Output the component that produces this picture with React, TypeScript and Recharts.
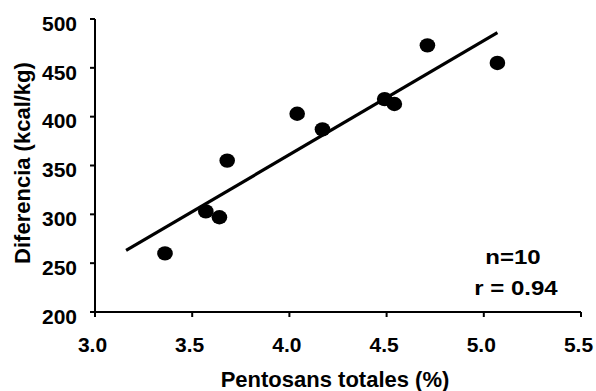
import React from 'react';
import { ScatterChart, Scatter, XAxis, YAxis, ReferenceLine, Label } from 'recharts';

const pentosans = [3.36, 3.57, 3.64, 3.68, 4.04, 4.17, 4.49, 4.54, 4.71, 5.07];
const diferencia = [260, 303, 297, 355, 403, 387, 418, 413, 473, 455];
const fitX = [3.16, 5.07];
const fitY = [263, 486];
const xTicks = [3.0, 3.5, 4.0, 4.5, 5.0, 5.5];
const yTicks = [200, 250, 300, 350, 400, 450, 500];
const xTitle = 'Pentosans totales (%)';
const yTitle = 'Diferencia (kcal/kg)';
const statLines = ['n=10', 'r = 0.94'];

const points = pentosans.map((x, i) => ({ x, y: diferencia[i] }));

const FONT = '"Liberation Sans", Arial, sans-serif';

const XTick = (props: any) => {
  const { x, y, payload } = props;
  return (
    <text x={x - 2.5} y={y} dy={33} textAnchor="middle" fontFamily={FONT} fontWeight="bold" fontSize={21} fill="#000">
      {Number(payload.value).toFixed(1)}
    </text>
  );
};

const YTick = (props: any) => {
  const { x, y, payload } = props;
  return (
    <text x={x - 11} y={y} dy={11.8} textAnchor="end" fontFamily={FONT} fontWeight="bold" fontSize={21} fill="#000">
      {payload.value}
    </text>
  );
};

const Dot = (props: any) => {
  const { cx, cy } = props;
  return <ellipse cx={cx} cy={cy} rx={7.8} ry={7.2} fill="#000" />;
};

const XTitle = () => (
  <text x={335} y={386.5} textAnchor="middle" fontFamily={FONT} fontWeight="bold" fontSize={22} fill="#000">
    {xTitle}
  </text>
);

const YTitle = () => (
  <g transform="translate(30,163) rotate(-90)">
    <text textAnchor="middle" fontFamily={FONT} fontWeight="bold" fontSize={22} fill="#000">
      {yTitle}
    </text>
  </g>
);

const Stats = () => (
  <g>
    <g transform="translate(513,264)">
      <text transform="scale(1.2,1)" textAnchor="middle" fontFamily={FONT} fontWeight="bold" fontSize={20} fill="#000">
        {statLines[0]}
      </text>
    </g>
    <g transform="translate(516,295)">
      <text transform="scale(1.2,1)" textAnchor="middle" fontFamily={FONT} fontWeight="bold" fontSize={20} fill="#000">
        {statLines[1]}
      </text>
    </g>
  </g>
);

export default function App() {
  return (
    <div style={{ position: 'absolute', left: 0, top: 0, width: 596, height: 391, background: '#fff' }}>
      <ScatterChart width={596} height={391} margin={{ top: 19, right: 15, bottom: 0, left: 0 }}>
        <XAxis
          type="number"
          dataKey="x"
          domain={[3, 5.5]}
          ticks={xTicks}
          interval={0}
          height={79}
          axisLine={{ stroke: '#000', strokeWidth: 2 }}
          tickLine={{ stroke: '#000', strokeWidth: 2 }}
          tickSize={5}
          tick={<XTick />}
        >
          <Label content={<XTitle />} />
        </XAxis>
        <YAxis
          type="number"
          dataKey="y"
          domain={[200, 500]}
          ticks={yTicks}
          interval={0}
          width={95}
          axisLine={{ stroke: '#000', strokeWidth: 2 }}
          tickLine={{ stroke: '#000', strokeWidth: 2 }}
          tickSize={5}
          tick={<YTick />}
        >
          <Label content={<YTitle />} />
        </YAxis>
        <ReferenceLine
          segment={[{ x: fitX[0], y: fitY[0] }, { x: fitX[1], y: fitY[1] }]}
          stroke="#000"
          strokeWidth={3.2}
          ifOverflow="visible"
        />
        <Scatter data={points} fill="#000" shape={<Dot />} isAnimationActive={false} />
      </ScatterChart>
      <svg width={596} height={391} style={{ position: 'absolute', left: 0, top: 0, pointerEvents: 'none' }}>
        <Stats />
      </svg>
    </div>
  );
}
